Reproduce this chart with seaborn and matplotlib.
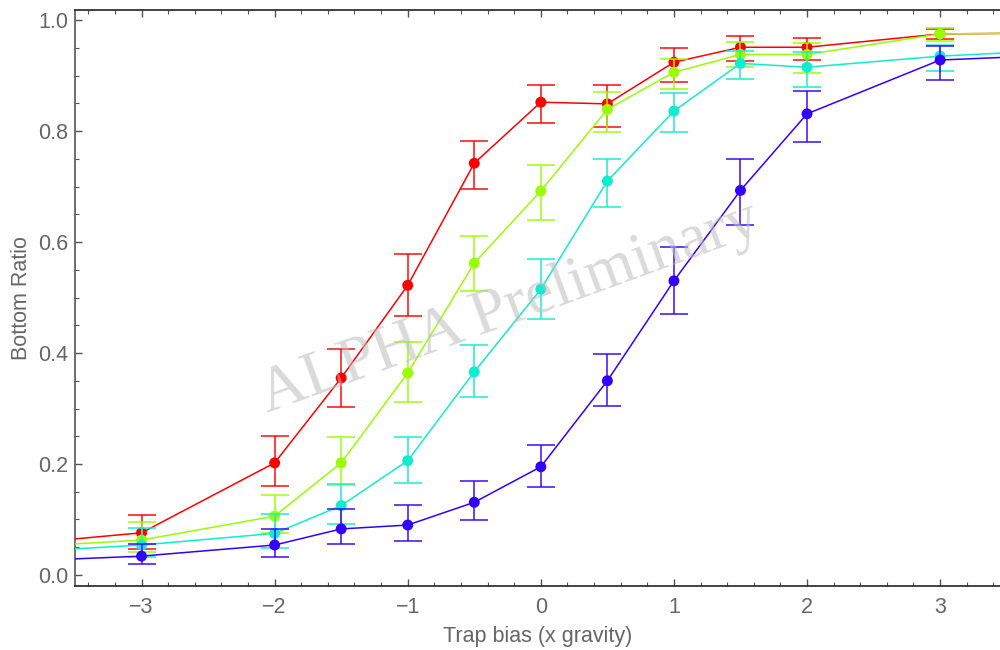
import numpy as np
import pandas as pd
import matplotlib
matplotlib.use("Agg")
import matplotlib.pyplot as plt
from matplotlib.ticker import MultipleLocator
import seaborn as sns

# ---- data ----
bias = [-3, -2, -1.5, -1, -0.5, 0, 0.5, 1, 1.5, 2, 3]
series_names = ["red", "green", "cyan", "blue"]
series_colors = ["#ff0000", "#99ff00", "#10ecd0", "#3300ff"]

red_val = [0.076, 0.202, 0.355, 0.522, 0.742, 0.852, 0.849, 0.924, 0.951, 0.951, 0.975]
red_hi = [0.108, 0.250, 0.407, 0.578, 0.782, 0.883, 0.883, 0.950, 0.971, 0.968, 0.984]
red_lo = [0.046, 0.160, 0.303, 0.467, 0.695, 0.814, 0.807, 0.888, 0.926, 0.928, 0.965]

green_val = [0.063, 0.106, 0.202, 0.364, 0.562, 0.692, 0.839, 0.906, 0.938, 0.938, 0.975]
green_hi = [0.095, 0.145, 0.249, 0.420, 0.611, 0.739, 0.871, 0.930, 0.960, 0.958, 0.986]
green_lo = [0.041, 0.075, 0.162, 0.312, 0.512, 0.640, 0.799, 0.875, 0.915, 0.905, 0.963]

cyan_val = [0.054, 0.075, 0.125, 0.206, 0.366, 0.515, 0.710, 0.836, 0.922, 0.915, 0.935]
cyan_hi = [0.084, 0.110, 0.164, 0.249, 0.415, 0.570, 0.750, 0.869, 0.944, 0.943, 0.955]
cyan_lo = [0.032, 0.049, 0.092, 0.166, 0.321, 0.461, 0.663, 0.798, 0.894, 0.879, 0.908]

blue_val = [0.034, 0.054, 0.083, 0.090, 0.131, 0.195, 0.350, 0.530, 0.693, 0.831, 0.928]
blue_hi = [0.056, 0.083, 0.119, 0.126, 0.169, 0.234, 0.398, 0.591, 0.749, 0.872, 0.953]
blue_lo = [0.020, 0.032, 0.056, 0.061, 0.099, 0.158, 0.304, 0.470, 0.631, 0.781, 0.892]

# line continuation to the plot edges
edge_x = [-3.5, 3.5]
red_edge = [0.065, 0.976]
green_edge = [0.056, 0.976]
cyan_edge = [0.047, 0.941]
blue_edge = [0.029, 0.933]

x_ticks = [-3, -2, -1, 0, 1, 2, 3]
x_tick_labels = ["\u22123", "\u22122", "\u22121", "0", "1", "2", "3"]
y_ticks = [0.0, 0.2, 0.4, 0.6, 0.8, 1.0]
y_tick_labels = ["0.0", "0.2", "0.4", "0.6", "0.8", "1.0"]
x_label = "Trap bias (x gravity)"
y_label = "Bottom Ratio"
watermark = "ALPHA Preliminary"

vals = [red_val, green_val, cyan_val, blue_val]
his = [red_hi, green_hi, cyan_hi, blue_hi]
los = [red_lo, green_lo, cyan_lo, blue_lo]
edges = [red_edge, green_edge, cyan_edge, blue_edge]

# ---- styling ----
sns.set_theme(style="white")
plt.rcParams["font.family"] = ["Liberation Sans", "DejaVu Sans"]

fig = plt.figure(figsize=(10, 6.5), dpi=100)
ax = fig.add_axes([0.075, 0.0985, 0.925, 0.886])

for i, name in enumerate(series_names):
    c = series_colors[i]
    z = 3 + i * 3
    line_df = pd.DataFrame({
        "x": [edge_x[0]] + bias + [edge_x[1]],
        "y": [edges[i][0]] + vals[i] + [edges[i][1]],
    })
    sns.lineplot(data=line_df, x="x", y="y", ax=ax, color=c, lw=1.1,
                 sort=False, estimator=None, zorder=z)
    v = np.array(vals[i])
    yerr = np.vstack([v - np.array(los[i]), np.array(his[i]) - v])
    ax.errorbar(bias, v, yerr=yerr, fmt="none", ecolor=c, elinewidth=1.4,
                capsize=10, capthick=1.4, alpha=0.75, zorder=z + 1)
    pt_df = pd.DataFrame({"x": bias, "y": vals[i]})
    sns.scatterplot(data=pt_df, x="x", y="y", ax=ax, color=c, s=62,
                    edgecolor="none", linewidth=0, zorder=z + 2)

ax.set_xlim(-3.5, 3.45)
ax.set_ylim(-0.0198, 1.018)

ax.set_xticks(x_ticks)
ax.set_xticklabels(x_tick_labels)
ax.set_yticks(y_ticks)
ax.set_yticklabels(y_tick_labels)
ax.xaxis.set_minor_locator(MultipleLocator(0.2))
ax.yaxis.set_minor_locator(MultipleLocator(0.05))

ax.tick_params(which="both", direction="in", top=True, right=False,
               bottom=True, left=True, color="#555555")
ax.tick_params(which="major", length=5, width=1.0, labelsize=15.5,
               labelcolor="#666666")
ax.tick_params(axis="x", which="major", pad=8)
ax.tick_params(axis="y", which="major", pad=5)
ax.tick_params(which="minor", length=3, width=0.8)

for s in ["left", "bottom", "top"]:
    ax.spines[s].set_visible(True)
    ax.spines[s].set_linewidth(1.2)
ax.spines["left"].set_color("#555555")
ax.spines["bottom"].set_color("#222222")
ax.spines["top"].set_color("#222222")
ax.spines["right"].set_visible(False)

ax.set_xlabel(x_label, fontsize=15.5, color="#666666", labelpad=6)
ax.set_ylabel(y_label, fontsize=15.5, color="#666666", labelpad=4)

ax.text(-0.23, 0.48, watermark, fontsize=46, family="Liberation Serif",
        color="#bbbbbb", alpha=0.55, rotation=20, ha="center", va="center",
        zorder=30)

fig.savefig("out.png", dpi=100)
